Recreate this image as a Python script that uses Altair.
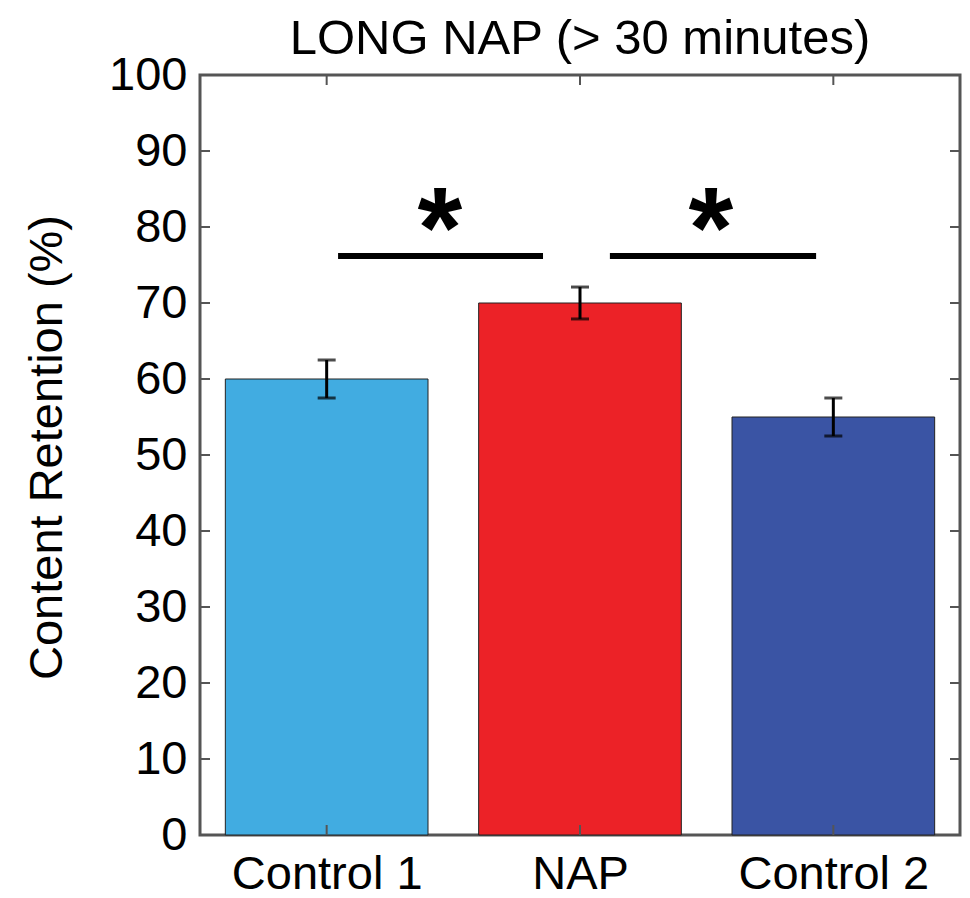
import altair as alt
import pandas as pd

# ---- data ----
categories = ["Control 1", "NAP", "Control 2"]
positions = [1, 2, 3]
means = [60, 70, 55]
errors = [2.5, 2.1, 2.5]
bar_colors = ["#41ACE1", "#EC2227", "#3A54A4"]
y_tick_values = [0, 10, 20, 30, 40, 50, 60, 70, 80, 90, 100]
sig_start = [1.045, 2.118]
sig_end = [1.854, 2.932]
sig_level = [76.2, 76.2]
star_pos = [1.447, 2.517]
star_level = [74.7, 74.7]

FONT = "Liberation Sans"
FRAME = "#555555"
W, H = 760, 760

df = pd.DataFrame({"cat": categories, "pos": positions, "mean": means, "err": errors})
df_ticks_y = pd.DataFrame({"v": y_tick_values})
df_ticks_x = pd.DataFrame({"pos": positions})
df_sig = pd.DataFrame({"x1": sig_start, "x2": sig_end, "y": sig_level})
df_star = pd.DataFrame({"x": star_pos, "y": star_level, "t": ["*", "*"]})

xscale = alt.Scale(domain=[0.5, 3.5], nice=False, zero=False)
yscale = alt.Scale(domain=[0, 100], nice=False, zero=False)

label_expr = " : ".join(
    f"datum.value == {p} ? '{c}'" for p, c in zip(positions[:-1], categories[:-1])
) + f" : '{categories[-1]}'"

xaxis = alt.Axis(
    values=positions, labelExpr=label_expr, title=None, grid=False,
    ticks=False, domain=False, labelFontSize=47, labelFont=FONT,
    labelColor="black", labelPadding=16, tickSize=0, labelOverlap=False,
    labelLimit=0)
yaxis = alt.Axis(
    values=y_tick_values, title="Content Retention (%)", grid=False,
    ticks=False, domain=False, tickSize=0, labelFontSize=47, labelFont=FONT,
    labelColor="black", labelPadding=13, labelOverlap=False, labelLimit=0,
    titleFontSize=47, titleFont=FONT,
    titleFontWeight="normal", titleColor="black", titleAngle=270,
    titleX=-153, titleY=372, titleAlign="center", titleBaseline="middle",
    titleLimit=0)

base = alt.Chart(df).transform_calculate(
    lo="datum.pos - 0.4", hi="datum.pos + 0.4",
    elo="datum.mean - datum.err", ehi="datum.mean + datum.err",
)

bars = base.mark_bar(stroke="#222222", strokeWidth=1).encode(
    x=alt.X("lo:Q", scale=xscale, axis=xaxis),
    x2="hi:Q",
    y=alt.Y("mean:Q", scale=yscale, axis=yaxis),
    y2=alt.datum(0),
    color=alt.Color("cat:N", scale=alt.Scale(domain=categories, range=bar_colors), legend=None),
)

err_rule = base.mark_rule(color="black", strokeWidth=3).encode(
    x=alt.X("pos:Q", scale=xscale, axis=xaxis),
    y=alt.Y("elo:Q", scale=yscale, axis=yaxis),
    y2="ehi:Q",
)
cap_lo = base.mark_tick(color="black", orient="horizontal", size=18, thickness=3).encode(
    x=alt.X("pos:Q", scale=xscale, axis=xaxis),
    y=alt.Y("elo:Q", scale=yscale, axis=yaxis),
)
cap_hi = base.mark_tick(color="black", orient="horizontal", size=18, thickness=3).encode(
    x=alt.X("pos:Q", scale=xscale, axis=xaxis),
    y=alt.Y("ehi:Q", scale=yscale, axis=yaxis),
)

sig = alt.Chart(df_sig).mark_rule(color="black", strokeWidth=6).encode(
    x=alt.X("x1:Q", scale=xscale, axis=xaxis),
    x2="x2:Q",
    y=alt.Y("y:Q", scale=yscale, axis=yaxis),
)
stars = alt.Chart(df_star).mark_text(
    font=FONT, fontWeight="bold", fontSize=115, baseline="alphabetic", align="center", color="black"
).encode(
    x=alt.X("x:Q", scale=xscale, axis=xaxis),
    y=alt.Y("y:Q", scale=yscale, axis=yaxis),
    text="t:N",
)

tick_len = 10
ticks_left = alt.Chart(df_ticks_y).mark_rule(color=FRAME, strokeWidth=2).encode(
    y=alt.Y("v:Q", scale=yscale, axis=yaxis), x=alt.value(0), x2=alt.value(tick_len))
ticks_right = alt.Chart(df_ticks_y).mark_rule(color=FRAME, strokeWidth=2).encode(
    y=alt.Y("v:Q", scale=yscale, axis=yaxis), x=alt.value(W - tick_len), x2=alt.value(W))
ticks_top = alt.Chart(df_ticks_x).mark_rule(color=FRAME, strokeWidth=2).encode(
    x=alt.X("pos:Q", scale=xscale, axis=xaxis), y=alt.value(0), y2=alt.value(tick_len))
ticks_bottom = alt.Chart(df_ticks_x).mark_rule(color=FRAME, strokeWidth=2).encode(
    x=alt.X("pos:Q", scale=xscale, axis=xaxis), y=alt.value(H - tick_len), y2=alt.value(H))

chart = alt.layer(
    bars, err_rule, cap_lo, cap_hi, sig, stars,
    ticks_left, ticks_right, ticks_top, ticks_bottom,
).properties(
    width=W, height=H,
    background="white",
    title=alt.TitleParams("LONG NAP (> 30 minutes)", fontSize=49, font=FONT,
                          fontWeight="normal", color="black", anchor="middle",
                          baseline="top", offset=10, dy=23, frame="group"),
    autosize=alt.AutoSizeParams(type="none"),
    padding={"left": 192, "top": 67, "right": 2, "bottom": 62},
).configure_view(stroke=FRAME, strokeWidth=3)

chart.save("out.html", embed_options={"renderer": "svg", "actions": False})
